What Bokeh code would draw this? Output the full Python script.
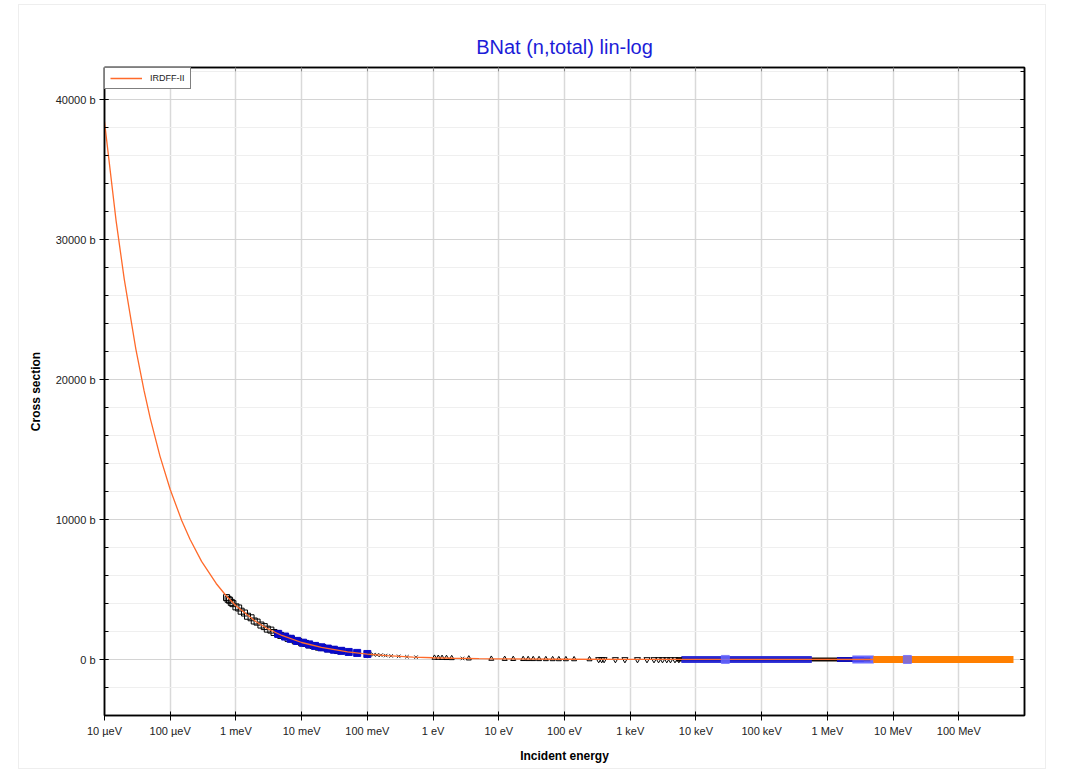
from bokeh.plotting import figure
from bokeh.models import (Range1d, FixedTicker, PrintfTickFormatter, CustomJSTickFormatter,
                          LinearAxis, LogAxis, Legend, LegendItem)
from bokeh.embed import file_html
from bokeh.resources import INLINE

# ---------------- data ----------------
tick_energies = [1e-5, 1e-4, 1e-3, 1e-2, 1e-1, 1e0, 1e1, 1e2, 1e3, 1e4, 1e5, 1e6, 1e7, 1e8]
tick_labels = ["10 µeV", "100 µeV", "1 meV", "10 meV", "100 meV", "1 eV", "10 eV", "100 eV",
               "1 keV", "10 keV", "100 keV", "1 MeV", "10 MeV", "100 MeV"]
y_ticks = [0, 10000, 20000, 30000, 40000]

# IRDFF-II evaluated curve
irdff_e = [1.0e-5, 1.5e-5, 2.0e-5, 3.0e-5, 4.0e-5, 5.0e-5, 7.0e-5, 1.0e-4, 1.5e-4, 2.0e-4,
           3.0e-4, 5.0e-4, 7.0e-4, 1.0e-3, 2.0e-3, 3.0e-3, 5.0e-3, 1.0e-2, 2.0e-2, 5.0e-2,
           0.1, 0.2, 0.5, 1.0, 2.0, 5.0, 10.0, 100.0, 1.0e3, 1.0e4, 1.0e5, 1.0e6, 1.0e7, 2.0e7]
irdff_xs = [38400, 31350, 27150, 22170, 19200, 17170, 14510, 12140, 9910, 8590,
            7010, 5430, 4590, 3840, 2715, 2217, 1717, 1214, 859, 543,
            389, 277, 176, 126, 91, 59, 43, 17, 9, 5.5, 4.5, 3.0, 1.8, 1.6]

# black open squares
sq_e = [7.2e-4, 7.6e-4, 8.0e-4, 8.5e-4, 9.0e-4, 1.0e-3, 1.1e-3, 1.2e-3, 1.35e-3, 1.5e-3,
        1.7e-3, 1.9e-3, 2.1e-3, 2.4e-3, 2.7e-3, 3.0e-3, 3.4e-3, 3.8e-3, 4.3e-3, 4.8e-3,
        5.5e-3, 6.2e-3, 7.0e-3, 8.0e-3, 9.0e-3, 1.0e-2, 1.15e-2, 1.3e-2, 1.5e-2, 1.8e-2,
        2.1e-2, 2.5e-2, 3.0e-2, 3.5e-2, 4.0e-2]
sq_xs = [4420, 4300, 4230, 4080, 3990, 3760, 3680, 3450, 3320, 3090,
         2980, 2750, 2670, 2460, 2350, 2170, 2100, 1930, 1860, 1720,
         1640, 1510, 1460, 1330, 1290, 1190, 1150, 1040, 1000, 880,
         850, 760, 710, 640, 620]

# blue filled squares
bsq_e = [4.4e-3, 5.6e-3, 6.8e-3, 8.5e-3, 1.05e-2, 1.3e-2, 1.6e-2, 2.0e-2, 2.5e-2, 3.1e-2,
         4.0e-2, 5.2e-2, 7.0e-2, 1.0e-1]
bsq_xs = [1830, 1640, 1480, 1330, 1200, 1080, 970, 870, 780, 700,
          620, 540, 470, 395]

# black crosses
x_e = [0.11, 0.125, 0.14, 0.16, 0.19, 0.23, 0.3, 0.4, 0.55, 2.8]
x_xs = [370, 347, 328, 307, 283, 257, 226, 196, 168, 76]

# black open triangles
tri_e = [1.05, 1.2, 1.37, 1.6, 1.92, 3.5, 7.7, 12.3, 16.6, 23.5, 28, 33.4, 41, 52, 66, 82,
         105, 140, 240]
tri_xs = [122, 115, 108, 100, 92, 69, 48, 39, 34, 29, 27, 25, 23, 21, 19, 17, 16, 14, 12]

# black open inverted triangles
inv_e = [331, 368, 400, 595, 830, 1290, 1800, 2300, 2700, 3100, 3600, 4100, 4800, 5500]
inv_xs = [9.0, 9.0, 8.8, 8.0, 7.5, 7.0, 6.5, 6.3, 6.2, 6.0, 5.9, 5.8, 5.6, 5.5]

# dense data bands
black_band_e = [5.0e3, 1.0e4, 3.0e4, 1.0e5, 3.0e5, 7.0e5, 1.2e6, 2.0e6, 3.0e6, 4.5e6]
black_band_xs = [5.6, 5.2, 4.8, 4.4, 4.0, 3.4, 2.9, 2.5, 2.2, 2.0]
blue_band_e = [6.0e3, 1.0e4, 3.0e4, 1.0e5, 3.0e5, 5.8e5]
blue_band_xs = [5.5, 5.0, 4.6, 4.3, 3.9, 3.6]
dblue_band_e = [1.4e6, 2.0e6, 3.6e6]
dblue_band_xs = [2.7, 2.5, 2.1]
lblue_band_e = [2.4e6, 3.5e6, 5.1e6]
lblue_band_xs = [2.3, 2.1, 1.9]
orange_band_e = [5.0e6, 1.0e7, 3.0e7, 1.0e8, 3.0e8, 6.8e8]
orange_band_xs = [1.9, 1.5, 1.2, 1.3, 1.4, 1.5]
lblue_pt_e = [2.8e4, 1.65e7]
lblue_pt_xs = [4.7, 1.45]

FONT = "Liberation Sans"

p = figure(width=1028, height=765, x_axis_type="log",
           x_range=Range1d(1e-5, 1e9), y_range=Range1d(-4000, 42286),
           output_backend="svg", toolbar_location=None,
           min_border_left=85, min_border_right=23, min_border_top=62, min_border_bottom=55,
           background_fill_color="white", border_fill_color="white",
           styles={"border": "1px solid #eeeeee"})
p.margin = (4, 0, 0, 18)

p.title.text = "BNat (n,total) lin-log"
p.title.align = "center"
p.title.text_color = "#1c1cd8"
p.title.text_font = FONT
p.title.text_font_style = "normal"
p.title.text_font_size = "20px"
p.title.standoff = 20

p.outline_line_color = "black"
p.outline_line_width = 1.5

xt = FixedTicker(ticks=tick_energies, minor_ticks=[])
yt = FixedTicker(ticks=y_ticks, minor_ticks=list(range(-4000, 42001, 2000)))
xfmt = CustomJSTickFormatter(args=dict(tvals=tick_energies, tlabs=tick_labels), code="""
let best = -1, bd = 1e9;
for (let i = 0; i < tvals.length; i++) {
  const d = Math.abs(Math.log10(tick) - Math.log10(tvals[i]));
  if (d < bd) { bd = d; best = i; }
}
return bd < 0.01 ? tlabs[best] : '';
""")

for ax in p.xaxis:
    ax.ticker = xt
    ax.formatter = xfmt
    ax.axis_label = "Incident energy"
    ax.axis_label_standoff = 9
    ax.major_label_standoff = 4
for ax in p.yaxis:
    ax.ticker = yt
    ax.formatter = PrintfTickFormatter(format="%d b")
    ax.axis_label = "Cross section"
    ax.axis_label_standoff = 10
    ax.major_label_standoff = 4

for ax in list(p.xaxis) + list(p.yaxis):
    ax.axis_line_color = "black"
    ax.axis_line_width = 1.5
    ax.major_tick_line_color = "black"
    ax.minor_tick_line_color = "black"
    ax.major_tick_in = 4
    ax.major_tick_out = 5
    ax.minor_tick_in = 4
    ax.minor_tick_out = 0
    ax.major_label_text_font = FONT
    ax.major_label_text_font_size = "11px"
    ax.major_label_text_color = "#222222"
    ax.axis_label_text_font = FONT
    ax.axis_label_text_font_size = "12px"
    ax.axis_label_text_font_style = "bold"
    ax.axis_label_text_color = "black"

blank = CustomJSTickFormatter(code="return '';")
# top axis: invisible spacer labels reserve room so the title sits higher
spacer = CustomJSTickFormatter(code="return '\\u00a0';")
top_ax = LogAxis(ticker=xt, formatter=spacer, major_tick_in=4, major_tick_out=0,
                 minor_tick_in=0, minor_tick_out=0, axis_line_color="black",
                 axis_line_width=1.5, major_label_standoff=0,
                 major_label_text_font_size="12px", major_label_text_alpha=0,
                 major_tick_line_color="#888888")
right_ax = LinearAxis(ticker=yt, formatter=blank, major_tick_in=4, major_tick_out=0,
                      minor_tick_in=4, minor_tick_out=0, axis_line_color="black",
                      axis_line_width=1.5, major_label_standoff=0,
                      major_label_text_font_size="1px")
p.add_layout(top_ax, "above")
p.add_layout(right_ax, "right")

p.xgrid.ticker = xt
p.xgrid.grid_line_color = "#d9d9d9"
p.xgrid.grid_line_width = 1.5
p.ygrid.ticker = yt
p.ygrid.grid_line_color = "#d4d4d4"
p.ygrid.grid_line_width = 1
p.ygrid.minor_grid_line_color = "#efefef"
p.ygrid.minor_grid_line_width = 1

# dense bands
p.line(black_band_e, black_band_xs, line_color="#140a04", line_width=4)
p.line(blue_band_e, blue_band_xs, line_color="#1f1fd6", line_width=7, line_alpha=0.9)
p.line(dblue_band_e, dblue_band_xs, line_color="#1010b8", line_width=5)
p.line(lblue_band_e, lblue_band_xs, line_color="#5050ff", line_width=8, line_alpha=0.85)

# experimental markers
p.scatter(sq_e, sq_xs, marker="square", size=6, fill_color=None, line_color="black", line_width=1)
p.scatter(bsq_e, bsq_xs, marker="square", size=7, fill_color="#0a0ac8", line_color="#0a0ac8")
p.scatter(x_e, x_xs, marker="x", size=5, line_color="#333333", line_width=1)
p.scatter(tri_e, tri_xs, marker="triangle", size=5, fill_color=None, line_color="black", line_width=1)
p.scatter(inv_e, inv_xs, marker="inverted_triangle", size=6, fill_color=None, line_color="black", line_width=1)

# evaluated curve
irdff = p.line(irdff_e, irdff_xs, line_color="#ff6a2a", line_width=1.3)

p.line(orange_band_e, orange_band_xs, line_color="#ff7f00", line_width=7)
p.scatter(lblue_pt_e, lblue_pt_xs, marker="square", size=8, fill_color="#6a6aff",
          line_color="#6a6aff", alpha=0.8)

legend = Legend(items=[LegendItem(label="IRDFF-II", renderers=[irdff])],
                location="top_left", margin=0, padding=5, spacing=0,
                label_text_font=FONT, label_text_font_size="9px", label_text_color="#222222",
                glyph_width=32, glyph_height=10, label_standoff=8, label_height=10,
                border_line_color="black", border_line_width=1, background_fill_alpha=1)
p.add_layout(legend)

open("out.html", "w").write(file_html(p, INLINE))
